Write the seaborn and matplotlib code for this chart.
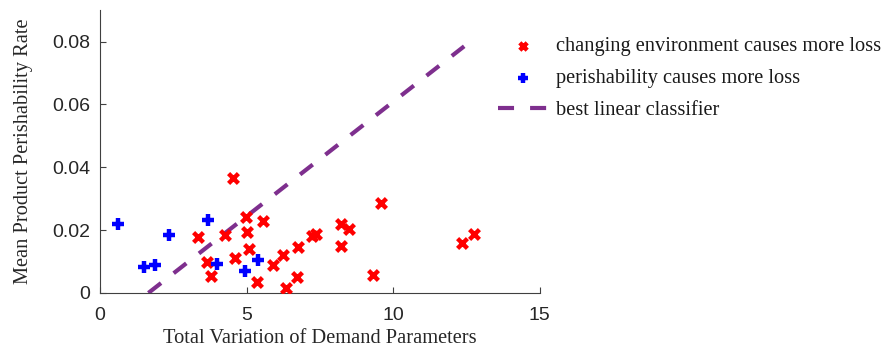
import matplotlib
matplotlib.use("Agg")
import matplotlib.pyplot as plt
import seaborn as sns
import pandas as pd

# Data
env_x = [4.55, 3.35, 4.26, 4.98, 5.00, 5.57, 3.66, 3.78, 4.60, 5.08, 5.36, 5.91,
         6.25, 6.76, 6.73, 6.34, 7.24, 7.35, 8.22, 8.50, 8.22, 9.58, 9.30, 12.35, 12.75]
env_y = [0.0366, 0.0179, 0.0186, 0.0242, 0.0195, 0.0229, 0.0099, 0.0054, 0.0110, 0.0139,
         0.0036, 0.0089, 0.0121, 0.0147, 0.0050, 0.0015, 0.0182, 0.0189, 0.0219, 0.0203,
         0.0149, 0.0285, 0.0057, 0.0158, 0.0187]
per_x = [0.62, 1.51, 1.875, 2.35, 3.67, 3.99, 4.94, 5.40]
per_y = [0.0221, 0.0083, 0.0088, 0.0184, 0.0232, 0.0092, 0.0071, 0.0105]
line_x = [1.65, 12.42]
line_y = [0.0, 0.0785]

labels = ["changing environment causes more loss",
          "perishability causes more loss",
          "best linear classifier"]
x_ticks = [0, 5, 10, 15]
y_ticks = [0, 0.02, 0.04, 0.06, 0.08]
y_tick_labels = ["0", "0.02", "0.04", "0.06", "0.08"]

sns.set_theme(style="white")
plt.rcParams["font.family"] = ["Liberation Serif", "DejaVu Serif"]

fig = plt.figure(figsize=(8.85, 3.5), dpi=100)
ax = fig.add_axes([0.113, 0.163, 0.497, 0.808])

env_df = pd.DataFrame({"x": env_x, "y": env_y})
per_df = pd.DataFrame({"x": per_x, "y": per_y})
line_df = pd.DataFrame({"x": line_x, "y": line_y})

sns.scatterplot(data=env_df, x="x", y="y", marker="x", color="#ff0000", s=50,
                linewidth=3.2, ax=ax, label=labels[0], zorder=3)
sns.scatterplot(data=per_df, x="x", y="y", marker="+", color="#0000ff", s=85,
                linewidth=3.2, ax=ax, label=labels[1], zorder=3)
sns.lineplot(data=line_df, x="x", y="y", color="#7e2f8e", linewidth=3,
             ax=ax, label=labels[2], zorder=2)
ax.lines[-1].set_dashes([3.85, 3.85])

ax.set_xlim(0, 15)
ax.set_ylim(0, 0.09)
ax.set_xticks(x_ticks)
ax.set_yticks(y_ticks)
ax.set_yticklabels(y_tick_labels)
ax.set_xticklabels([str(t) for t in x_ticks])
for lab in ax.get_xticklabels() + ax.get_yticklabels():
    lab.set_family(["Liberation Sans", "DejaVu Sans"])
    lab.set_fontsize(14)
    lab.set_color("#262626")

ax.tick_params(direction="in", length=4, width=0.8, colors="#404040",
               labelcolor="#262626", left=True, bottom=True)
ax.tick_params(axis="x", pad=10)
ax.tick_params(axis="y", pad=7)
for side in ["top", "right"]:
    ax.spines[side].set_visible(False)
for side in ["left", "bottom"]:
    ax.spines[side].set_color("#404040")
    ax.spines[side].set_linewidth(0.8)

ax.set_xlabel("Total Variation of Demand Parameters", fontsize=14.7, labelpad=4)
ax.set_ylabel("Mean Product Perishability Rate", fontsize=14.7, labelpad=14)

ax.get_legend().remove()
h, l = ax.get_legend_handles_labels()
leg = fig.legend(h, l, loc="upper left", bbox_to_anchor=(0.563, 0.895), frameon=False,
                 fontsize=14.7, handlelength=2.4, handletextpad=0.45, labelspacing=0.62,
                 borderaxespad=0, borderpad=0, markerscale=0.75)
for t in leg.get_texts():
    t.set_color("#1a1a1a")

fig.savefig("out.png", dpi=100)
